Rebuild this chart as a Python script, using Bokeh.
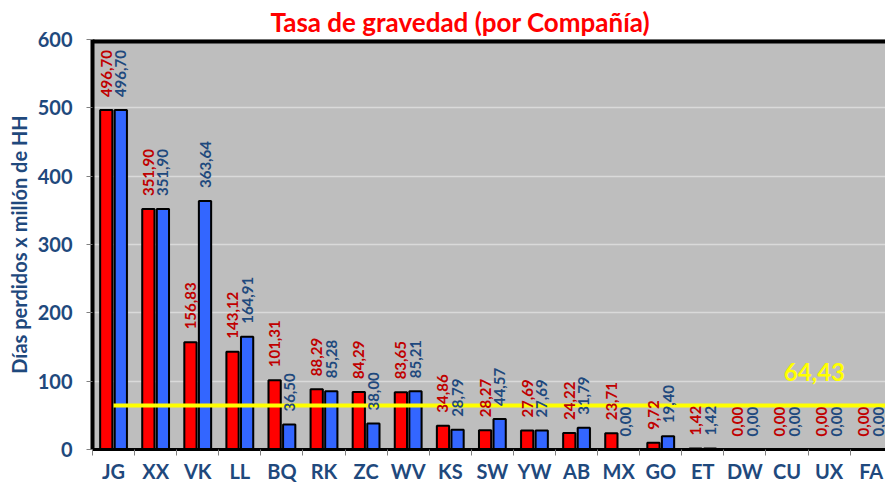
import numpy as np
from bokeh.plotting import figure
from bokeh.models import ColumnDataSource, Range1d, FixedTicker, Span
from bokeh.core.properties import value
from bokeh.embed import file_html
from bokeh.resources import INLINE

# ---- data ----
companies = ["JG", "XX", "VK", "LL", "BQ", "RK", "ZC", "WV", "KS", "SW",
             "YW", "AB", "MX", "GO", "ET", "DW", "CU", "UX", "FA"]
serie_roja = [496.70, 351.90, 156.83, 143.12, 101.31, 88.29, 84.29, 83.65, 34.86, 28.27,
              27.69, 24.22, 23.71, 9.72, 1.42, 0.00, 0.00, 0.00, 0.00]
serie_azul = [496.70, 351.90, 363.64, 164.91, 36.50, 85.28, 38.00, 85.21, 28.79, 44.57,
              27.69, 31.79, 0.00, 19.40, 1.42, 0.00, 0.00, 0.00, 0.00]
promedio = 64.43
y_ticks = [0, 100, 200, 300, 400, 500, 600]

title_txt = "Tasa de gravedad (por Compañía)"
y_title = "Días perdidos x millón de HH"

FONT = "Lato"
DARK_BLUE = "#1F497D"

def fmt(v):
    return f"{v:.2f}".replace(".", ",")

idx = np.arange(len(companies))
off = 0.173
bw = 0.29

src_r = ColumnDataSource(dict(x=idx - off, top=serie_roja, lab=[fmt(v) for v in serie_roja]))
src_b = ColumnDataSource(dict(x=idx + off, top=serie_azul, lab=[fmt(v) for v in serie_azul]))

p = figure(width=885, height=491,
           x_range=Range1d(-0.5, len(companies) - 0.66),
           y_range=Range1d(y_ticks[0], y_ticks[-1]),
           output_backend="svg", toolbar_location=None,
           min_border_left=92, min_border_right=0, min_border_top=39, min_border_bottom=42)

p.background_fill_color = "#BEBEBE"
p.border_fill_color = "white"
p.outline_line_color = None

# title
p.title.text = title_txt
p.title.text_font = FONT
p.title.text_font_size = "26px"
p.title.text_font_style = "bold"
p.title.text_color = "#FF0000"
p.title.align = "left"
p.title.offset = 178
p.title.standoff = 4

# grid
p.xgrid.grid_line_color = None
p.ygrid.ticker = FixedTicker(ticks=y_ticks)
p.ygrid.grid_line_color = "#DADADA"
p.ygrid.grid_line_width = 1.5

# y axis
p.yaxis.ticker = FixedTicker(ticks=y_ticks)
p.yaxis.axis_line_color = "black"
p.yaxis.axis_line_width = 4
p.yaxis.major_tick_line_color = "#808080"
p.yaxis.major_tick_out = 6
p.yaxis.major_tick_in = 0
p.yaxis.minor_tick_line_color = None
p.yaxis.major_label_text_font = FONT
p.yaxis.major_label_text_font_size = "20px"
p.yaxis.major_label_text_font_style = "bold"
p.yaxis.major_label_text_color = DARK_BLUE
p.yaxis.major_label_standoff = 14
p.yaxis.axis_label = y_title
p.yaxis.axis_label_text_font = FONT
p.yaxis.axis_label_text_font_size = "20px"
p.yaxis.axis_label_text_font_style = "bold"
p.yaxis.axis_label_text_color = DARK_BLUE
p.yaxis.axis_label_standoff = 4

# x axis
p.xaxis.ticker = FixedTicker(ticks=list(idx), minor_ticks=[i - 0.5 for i in range(len(companies) + 1)])
p.xaxis.major_label_overrides = {int(i): c for i, c in enumerate(companies)}
p.xaxis.axis_line_color = "black"
p.xaxis.axis_line_width = 3
p.xaxis.major_tick_line_color = None
p.xaxis.major_tick_out = 0
p.xaxis.minor_tick_line_color = "#808080"
p.xaxis.minor_tick_out = 6
p.xaxis.minor_tick_in = 0
p.xaxis.major_label_text_font = FONT
p.xaxis.major_label_text_font_size = "20px"
p.xaxis.major_label_text_font_style = "bold"
p.xaxis.major_label_text_color = DARK_BLUE
p.xaxis.major_label_standoff = 3

# top border
p.add_layout(Span(location=y_ticks[-1], dimension="width", line_color="black", line_width=8))

# soft shadows behind bars
for src in (src_r, src_b):
    p.vbar(x="x", top="top", width=bw + 0.06, bottom=0, source=src, fill_color="black",
           fill_alpha=0.13, line_color=None)

# bars
p.vbar(x="x", top="top", width=bw, bottom=0, source=src_r, fill_color="#FF0000",
       line_color="black", line_width=2)
p.vbar(x="x", top="top", width=bw, bottom=0, source=src_b, fill_color="#3366FF",
       line_color="black", line_width=2)

# average line
p.line(x=[0, len(companies)], y=[promedio, promedio], line_color="#FFFF00", line_width=4)
p.text(x=[16.65], y=[promedio], text=[fmt(promedio)], y_offset=-33,
       text_font=value(FONT), text_font_size="24px", text_font_style="bold",
       text_color="#FFFF00", text_align="center", text_baseline="middle")

# data labels
for src, col in ((src_r, "#C00000"), (src_b, DARK_BLUE)):
    p.text(x="x", y="top", text="lab", source=src, angle=np.pi / 2,
           text_align="left", text_baseline="middle", y_offset=-13,
           text_font=value(FONT), text_font_size="15px", text_font_style="bold",
           text_color=col)

open("out.html", "w").write(file_html(p, INLINE))
